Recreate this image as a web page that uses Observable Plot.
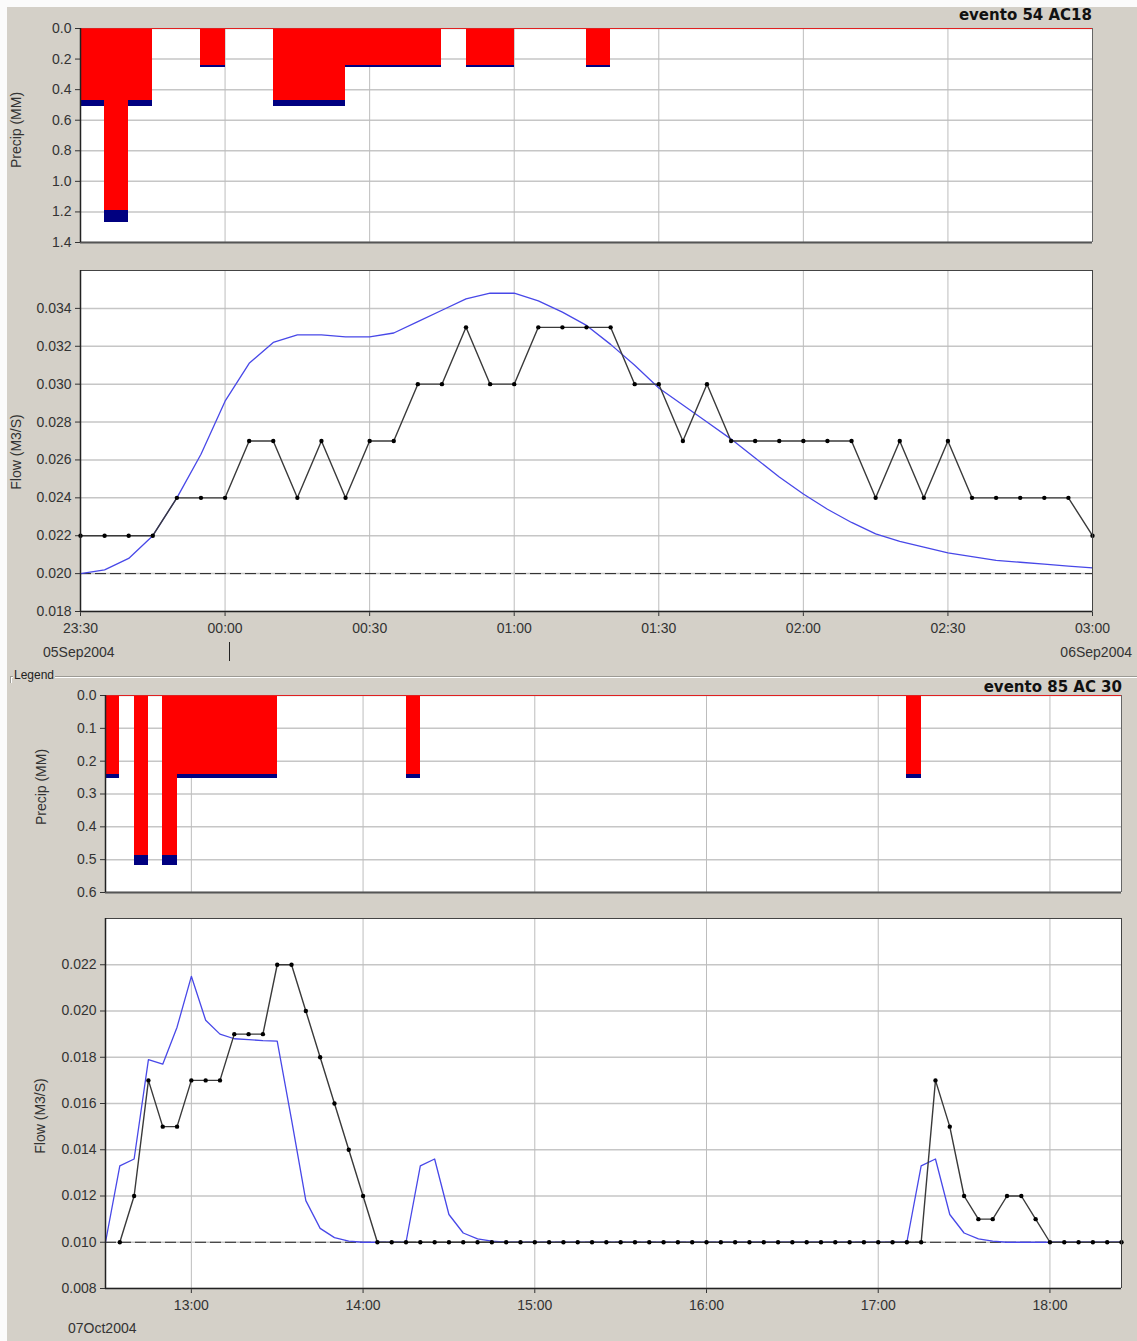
<!DOCTYPE html>
<html><head><meta charset="utf-8">
<script src="https://cdn.jsdelivr.net/npm/d3@7"></script>
<script src="https://cdn.jsdelivr.net/npm/@observablehq/plot@0.6"></script>
<style>
body{margin:0;background:#d4d0c8;}
#root{position:relative;width:1137px;height:1341px;background:#d4d0c8;overflow:hidden;font-family:'Liberation Sans',Arial,sans-serif;}
.abs{position:absolute;white-space:nowrap;}
.title{font-family:'DejaVu Sans',sans-serif;font-weight:bold;font-size:15px;line-height:18px;color:#111;}
.lbl{font-size:14px;line-height:16px;color:#333;}
.ylab{font-size:14px;line-height:16px;color:#333;transform:translate(-50%,-50%) rotate(-90deg);}
</style></head><body><div id="root"></div>
<script>
// ---------- Event 54 AC18 (05-06 Sep 2004), 5-minute steps from 23:30 ----------
const ev1Title = "evento 54 AC18";
const ev1Start = "2004-09-05T23:30Z";
const ev1End = "2004-09-06T03:00Z";
const ev1TimeTicks = ["2004-09-05T23:30Z","2004-09-06T00:00Z","2004-09-06T00:30Z","2004-09-06T01:00Z","2004-09-06T01:30Z","2004-09-06T02:00Z","2004-09-06T02:30Z","2004-09-06T03:00Z"];
const ev1PrecipTicks = [0, 0.2, 0.4, 0.6, 0.8, 1.0, 1.2, 1.4];
const ev1FlowTicks = [0.018, 0.020, 0.022, 0.024, 0.026, 0.028, 0.030, 0.032, 0.034];
const ev1PrecipTimes = ["2004-09-05T23:30Z","2004-09-05T23:35Z","2004-09-05T23:40Z","2004-09-05T23:55Z","2004-09-06T00:10Z","2004-09-06T00:15Z","2004-09-06T00:20Z","2004-09-06T00:25Z","2004-09-06T00:30Z","2004-09-06T00:35Z","2004-09-06T00:40Z","2004-09-06T00:50Z","2004-09-06T00:55Z","2004-09-06T01:15Z"];
const ev1Excess = [0.474, 1.19, 0.474, 0.24, 0.474, 0.474, 0.474, 0.24, 0.24, 0.24, 0.24, 0.24, 0.24, 0.24];
const ev1Loss   = [0.034, 0.08, 0.034, 0.014, 0.034, 0.034, 0.034, 0.014, 0.014, 0.014, 0.014, 0.014, 0.014, 0.014];
const ev1Observed = [0.022,0.022,0.022,0.022,0.024,0.024,0.024,0.027,0.027,0.024,0.027,0.024,0.027,0.027,0.030,0.030,0.033,0.030,0.030,0.033,0.033,0.033,0.033,0.030,0.030,0.027,0.030,0.027,0.027,0.027,0.027,0.027,0.027,0.024,0.027,0.024,0.027,0.024,0.024,0.024,0.024,0.024,0.022];
const ev1Simulated = [0.0200,0.0202,0.0208,0.0220,0.0240,0.0263,0.0291,0.0311,0.0322,0.0326,0.0326,0.0325,0.0325,0.0327,0.0333,0.0339,0.0345,0.0348,0.0348,0.0344,0.0338,0.0331,0.0321,0.0310,0.0298,0.0289,0.0280,0.0271,0.0261,0.0251,0.0242,0.0234,0.0227,0.0221,0.0217,0.0214,0.0211,0.0209,0.0207,0.0206,0.0205,0.0204,0.0203];
const ev1Baseflow = 0.020;

// ---------- Event 85 AC 30 (07 Oct 2004), 5-minute steps ----------
const ev2Title = "evento 85 AC 30";
const ev2Start = "2004-10-07T12:30Z";
const ev2End = "2004-10-07T18:25Z";
const ev2ObsStart = "2004-10-07T12:35Z";
const ev2TimeTicks = ["2004-10-07T13:00Z","2004-10-07T14:00Z","2004-10-07T15:00Z","2004-10-07T16:00Z","2004-10-07T17:00Z","2004-10-07T18:00Z"];
const ev2PrecipTicks = [0, 0.1, 0.2, 0.3, 0.4, 0.5, 0.6];
const ev2FlowTicks = [0.008, 0.010, 0.012, 0.014, 0.016, 0.018, 0.020, 0.022];
const ev2PrecipTimes = ["2004-10-07T12:30Z","2004-10-07T12:40Z","2004-10-07T12:50Z","2004-10-07T12:55Z","2004-10-07T13:00Z","2004-10-07T13:05Z","2004-10-07T13:10Z","2004-10-07T13:15Z","2004-10-07T13:20Z","2004-10-07T13:25Z","2004-10-07T14:15Z","2004-10-07T17:10Z"];
const ev2Excess = [0.24, 0.487, 0.487, 0.24, 0.24, 0.24, 0.24, 0.24, 0.24, 0.24, 0.24, 0.24];
const ev2Loss   = [0.014, 0.03, 0.03, 0.014, 0.014, 0.014, 0.014, 0.014, 0.014, 0.014, 0.014, 0.014];
const ev2Observed = [0.010,0.012,0.017,0.015,0.015,0.017,0.017,0.017,0.019,0.019,0.019,0.022,0.022,0.020,0.018,0.016,0.014,0.012,
  0.010,0.010,0.010,0.010,0.010,0.010,0.010,0.010,0.010,0.010,0.010,0.010,0.010,0.010,0.010,0.010,0.010,0.010,0.010,0.010,
  0.010,0.010,0.010,0.010,0.010,0.010,0.010,0.010,0.010,0.010,0.010,0.010,0.010,0.010,0.010,0.010,0.010,0.010,0.010,
  0.017,0.015,0.012,0.011,0.011,0.012,0.012,0.011,0.010,0.010,0.010,0.010,0.010,0.010];
const ev2Simulated = [0.0100,0.0133,0.0136,0.0179,0.0177,0.0193,0.0215,0.0196,0.0190,0.0188,0.01876,0.01872,0.0187,0.0153,0.0118,0.0106,0.0102,0.01005,0.0100,0.0100,0.0100,0.0100,0.0133,0.0136,0.0112,0.0104,0.01015,0.01005,
  0.0100,0.0100,0.0100,0.0100,0.0100,0.0100,0.0100,0.0100,0.0100,0.0100,0.0100,0.0100,0.0100,0.0100,0.0100,0.0100,0.0100,0.0100,0.0100,0.0100,0.0100,0.0100,0.0100,0.0100,0.0100,0.0100,0.0100,0.0100,0.0100,
  0.0133,0.0136,0.0112,0.0104,0.01015,0.01005,
  0.0100,0.0100,0.0100,0.0100,0.0100,0.0100,0.0100,0.0100,0.0100];
const ev2Baseflow = 0.010;

// ---------- helpers ----------
const STEP = 5 * 60 * 1000;
const D = s => new Date(s);
const series = (start, values) => values.map((v, i) => ({t: new Date(D(start).getTime() + i * STEP), v}));
const bars = (times, ex, loss) => times.map((s, i) => ({t0: D(s), t1: new Date(D(s).getTime() + STEP), ex: ex[i], loss: loss[i]}));
const root = document.getElementById("root");
const baseStyle = {background: "transparent", fontFamily: "'Liberation Sans', Arial, sans-serif", fontSize: "14px", color: "#333", overflow: "visible"};

function place(svg, top) {
  svg.style.position = "absolute";
  svg.style.left = "0px";
  svg.style.top = top + "px";
  root.appendChild(svg);
}
function text(cls, str, css) {
  const d = document.createElement("div");
  d.className = "abs " + cls;
  d.textContent = str;
  Object.assign(d.style, css);
  root.appendChild(d);
  return d;
}

function precipPanel({start, end, timeTicks, pTicks, times, ex, loss, top, height, mt, mb, ml, mr}) {
  const data = bars(times, ex, loss);
  const yMax = pTicks[pTicks.length - 1];
  return place(Plot.plot({
    width: 1137, height, marginTop: mt, marginBottom: mb, marginLeft: ml, marginRight: mr,
    style: baseStyle,
    x: {type: "utc", domain: [D(start), D(end)], axis: null},
    y: {domain: [0, yMax], reverse: true, ticks: pTicks, tickFormat: d3.format(".1f"), tickSize: 5, tickPadding: 4, label: null},
    marks: [
      Plot.frame({fill: "white", stroke: "none"}),
      Plot.ruleY(pTicks, {stroke: "#c6c6c6", strokeWidth: 1.5}),
      Plot.ruleX(timeTicks.map(D), {stroke: "#bdbdbd", strokeWidth: 1}),
      Plot.rect(data, {x1: "t0", x2: "t1", y1: 0, y2: "ex", fill: "#ff0000", shapeRendering: "crispEdges"}),
      Plot.rect(data, {x1: "t0", x2: "t1", y1: "ex", y2: d => d.ex + d.loss, fill: "#000080", shapeRendering: "crispEdges"}),
      Plot.ruleY([0], {stroke: "#e02020", strokeWidth: 1}),
      Plot.ruleY([yMax], {stroke: "#555", strokeWidth: 2}),
      Plot.ruleX([D(end)], {stroke: "#666", strokeWidth: 1}),
      Plot.ruleX([D(start)], {stroke: "#222", strokeWidth: 1.5})
    ]
  }), top);
}

function flowPanel({start, end, timeTicks, fTicks, yMax, obsStart, obs, simStart, sim, base, top, height, mt, mb, ml, mr, pad}) {
  const o = series(obsStart, obs);
  const s = series(simStart, sim);
  return place(Plot.plot({
    width: 1137, height, marginTop: mt, marginBottom: mb, marginLeft: ml, marginRight: mr,
    style: baseStyle,
    x: {type: "utc", domain: [D(start), D(end)], ticks: timeTicks.map(D), tickFormat: d3.utcFormat("%H:%M"), tickSize: 5, tickPadding: pad, label: null},
    y: {domain: [fTicks[0], yMax], ticks: fTicks, tickFormat: d3.format(".3f"), tickSize: 5, tickPadding: 4, label: null},
    marks: [
      Plot.frame({fill: "white", stroke: "none"}),
      Plot.ruleY(fTicks, {stroke: "#c6c6c6", strokeWidth: 1.5}),
      Plot.ruleX(timeTicks.map(D), {stroke: "#bdbdbd", strokeWidth: 1}),
      Plot.ruleY([base], {stroke: "#222", strokeWidth: 1, strokeDasharray: "11,4"}),
      Plot.line(s, {x: "t", y: "v", stroke: "#4848e8", strokeWidth: 1.3}),
      Plot.line(o, {x: "t", y: "v", stroke: "#3a3a3a", strokeWidth: 1.4}),
      Plot.dot(o, {x: "t", y: "v", r: 2.2, fill: "#000", stroke: "none"}),
      Plot.ruleY([yMax], {stroke: "#444", strokeWidth: 1}),
      Plot.ruleX([D(end)], {stroke: "#444", strokeWidth: 1}),
      Plot.ruleY([fTicks[0]], {stroke: "#222", strokeWidth: 1.5}),
      Plot.ruleX([D(start)], {stroke: "#222", strokeWidth: 1.5})
    ]
  }), top);
}

// white border strips
const sL = document.createElement("div"); sL.className = "abs"; Object.assign(sL.style, {left: "0px", top: "0px", width: "7px", height: "1341px", background: "#fbfbfb"}); root.appendChild(sL);
const sT = document.createElement("div"); sT.className = "abs"; Object.assign(sT.style, {left: "0px", top: "0px", width: "1137px", height: "7px", background: "#fbfbfb"}); root.appendChild(sT);

// ---------- Event 1 ----------
precipPanel({start: ev1Start, end: ev1End, timeTicks: ev1TimeTicks, pTicks: ev1PrecipTicks, times: ev1PrecipTimes, ex: ev1Excess, loss: ev1Loss,
  top: 0, height: 262, mt: 28, mb: 20, ml: 80, mr: 45});
flowPanel({start: ev1Start, end: ev1End, timeTicks: ev1TimeTicks, fTicks: ev1FlowTicks, yMax: 0.036, obsStart: ev1Start, obs: ev1Observed,
  simStart: ev1Start, sim: ev1Simulated, base: ev1Baseflow, top: 262, height: 380, mt: 8, mb: 31, ml: 80, mr: 45, pad: 7});
text("title", ev1Title, {right: "45px", top: "6px"});
text("ylab", "Precip (MM)", {left: "16px", top: "130px"});
text("ylab", "Flow (M3/S)", {left: "16px", top: "452px"});
text("lbl", "05Sep2004", {left: "43px", top: "644px"});
text("lbl", "06Sep2004", {right: "5px", top: "644px"});
const mark = document.createElement("div"); mark.className = "abs";
Object.assign(mark.style, {left: "229px", top: "642px", width: "1px", height: "19px", background: "#222"}); root.appendChild(mark);

// ---------- Legend group box line ----------
const gb = document.createElement("div"); gb.className = "abs";
Object.assign(gb.style, {left: "10px", top: "676px", width: "1127px", height: "6px", borderTop: "1px solid #9c9a94", borderLeft: "1px solid #9c9a94", boxShadow: "inset 1px 1px 0 #ffffff"}); root.appendChild(gb);
text("", "Legend", {left: "13px", top: "668px", fontSize: "12px", lineHeight: "14px", color: "#222", background: "#d4d0c8", padding: "0 1px"});

// ---------- Event 2 ----------
precipPanel({start: ev2Start, end: ev2End, timeTicks: ev2TimeTicks, pTicks: ev2PrecipTicks, times: ev2PrecipTimes, ex: ev2Excess, loss: ev2Loss,
  top: 680, height: 225, mt: 15, mb: 13, ml: 105, mr: 16});
flowPanel({start: ev2Start, end: ev2End, timeTicks: ev2TimeTicks, fTicks: ev2FlowTicks, yMax: 0.024, obsStart: ev2ObsStart, obs: ev2Observed,
  simStart: ev2Start, sim: ev2Simulated, base: ev2Baseflow, top: 905, height: 436, mt: 13, mb: 53, ml: 105, mr: 16, pad: 7});
text("title", ev2Title, {right: "15px", top: "678px"});
text("ylab", "Precip (MM)", {left: "41px", top: "787px"});
text("ylab", "Flow (M3/S)", {left: "40px", top: "1116px"});
text("lbl", "07Oct2004", {left: "68px", top: "1320px"});
</script></body></html>
